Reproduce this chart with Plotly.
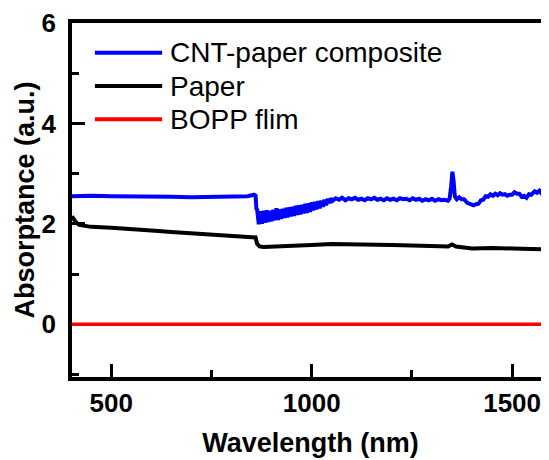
import plotly.graph_objects as go

# ---- data ----
cnt_wl = [402, 450, 500, 550, 600, 650, 700, 750, 800, 840, 856, 860, 862,
          864, 868, 872, 876, 880, 884, 888, 892, 896, 900, 904, 908, 912, 916, 920, 924, 928,
          932, 936, 940, 944, 948, 952, 956, 960, 964, 968, 972, 976, 980, 984, 988, 992, 996,
          1000, 1004, 1008, 1012, 1016, 1020, 1024, 1028, 1032, 1036, 1040, 1044, 1048,
          1052, 1060, 1068, 1076, 1084, 1092, 1100, 1108, 1116, 1124, 1132, 1140, 1148, 1156,
          1164, 1172, 1180, 1188, 1196, 1204, 1212, 1220, 1228, 1236, 1244, 1252, 1260, 1268,
          1276, 1284, 1292, 1300, 1308, 1316, 1324, 1332, 1340, 1344, 1348, 1351, 1354, 1357,
          1362, 1368, 1374, 1380, 1388, 1396, 1404, 1410, 1416, 1422, 1428, 1434, 1440, 1446,
          1452, 1458, 1464, 1470, 1476, 1482, 1488, 1494, 1500, 1506, 1512, 1518, 1524, 1530,
          1536, 1542, 1548, 1556, 1562, 1568, 1574, 1580, 1586, 1592, 1600]
cnt_abs = [2.55, 2.56, 2.55, 2.55, 2.54, 2.54, 2.53, 2.54, 2.54, 2.55, 2.58, 2.56, 2.30,
           2.28, 1.99, 2.25, 2.00, 2.26, 2.02, 2.27, 2.04, 2.26, 2.05, 2.28, 2.07, 2.31, 2.08, 2.29, 2.10, 2.30,
           2.12, 2.32, 2.13, 2.33, 2.15, 2.34, 2.16, 2.36, 2.18, 2.37, 2.19, 2.38, 2.21, 2.40, 2.22, 2.41, 2.24,
           2.43, 2.27, 2.44, 2.29, 2.45, 2.31, 2.46, 2.34, 2.48, 2.37, 2.50, 2.41, 2.51,
           2.46, 2.51, 2.48, 2.52, 2.47, 2.51, 2.49, 2.52, 2.48, 2.50, 2.47, 2.51, 2.49, 2.52,
           2.48, 2.50, 2.47, 2.51, 2.48, 2.50, 2.47, 2.51, 2.49, 2.50, 2.47, 2.51, 2.48, 2.50,
           2.46, 2.49, 2.47, 2.50, 2.46, 2.49, 2.47, 2.48, 2.46, 2.50, 2.75, 3.04, 2.85, 2.55,
           2.49, 2.53, 2.49, 2.49, 2.42, 2.40, 2.37, 2.39, 2.40, 2.47, 2.48, 2.55, 2.54, 2.59,
           2.56, 2.60, 2.57, 2.61, 2.58, 2.59, 2.56, 2.58, 2.58, 2.63, 2.60, 2.60, 2.54, 2.56,
           2.52, 2.59, 2.58, 2.65, 2.62, 2.66, 2.60, 2.61, 2.55, 2.56, 2.54]

paper_wl = [402, 406, 412, 420, 430, 450, 500, 550, 600, 650, 700, 750, 800, 850, 860, 864, 870,
            880, 900, 950, 1000, 1050, 1100, 1150, 1200, 1250, 1300, 1340, 1350, 1360, 1400,
            1450, 1500, 1550, 1600]
paper_abs = [2.15, 2.10, 2.03, 1.98, 1.96, 1.94, 1.92, 1.90, 1.87, 1.84, 1.81, 1.78, 1.76, 1.74,
             1.73, 1.60, 1.55, 1.54, 1.55, 1.56, 1.58, 1.60, 1.60, 1.59, 1.58, 1.57, 1.56, 1.55,
             1.59, 1.55, 1.51, 1.52, 1.51, 1.50, 1.49]

bopp_wl = [400, 600, 800, 1000, 1200, 1400, 1600]
bopp_abs = [0.0, 0.0, 0.0, 0.0, 0.0, 0.0, 0.0]

series_names = ["CNT-paper composite", "Paper", "BOPP flim"]
series_colors = ["#0000ff", "#000000", "#ff0000"]
x_ticks = [500, 1000, 1500]
y_ticks = [0, 2, 4, 6]

FONT = "Liberation Sans, Arial, sans-serif"

fig = go.Figure()
fig.add_trace(go.Scatter(x=bopp_wl, y=bopp_abs, mode="lines", name=series_names[2],
                         line=dict(color=series_colors[2], width=3.5), showlegend=False))
fig.add_trace(go.Scatter(x=paper_wl, y=paper_abs, mode="lines", name=series_names[1],
                         line=dict(color=series_colors[1], width=4), showlegend=False))
fig.add_trace(go.Scatter(x=cnt_wl, y=cnt_abs, mode="lines", name=series_names[0],
                         line=dict(color=series_colors[0], width=4), showlegend=False))

# custom legend (long sample lines like the reference)
leg_y = [0.916, 0.822, 0.728]
for name, color, yy in zip(series_names, series_colors, leg_y):
    fig.add_shape(type="line", xref="paper", yref="paper", x0=0.048, x1=0.189, y0=yy, y1=yy,
                  line=dict(color=color, width=4))
    fig.add_annotation(xref="paper", yref="paper", x=0.201, y=yy, text=name, showarrow=False,
                       xanchor="left", yanchor="middle",
                       font=dict(family=FONT, size=28, color="black"))

axis_common = dict(showgrid=False, zeroline=False, showline=True, linecolor="black", linewidth=3.5,
                   ticks="inside", ticklen=13, tickwidth=3, tickcolor="black", automargin=False,
                   layer="below traces",
                   tickfont=dict(family=FONT, size=26, color="black", weight="bold"))

# page body has an 8px default margin, so the figure is sized/margined to compensate
fig.update_layout(
    width=541, height=452,
    margin=dict(l=64, r=0, t=15, b=83),
    paper_bgcolor="white", plot_bgcolor="white",
    showlegend=False,
    xaxis=dict(range=[402, 1592], tickvals=x_ticks, mirror=True,
               minor=dict(dtick=250, ticks="inside", ticklen=7, tickwidth=3, tickcolor="black"),
               ticklabelstandoff=0,
               title=dict(text="Wavelength (nm)", standoff=17,
                          font=dict(family=FONT, size=27, color="black", weight="bold")),
               **axis_common),
    yaxis=dict(range=[-1.05, 6], tickvals=y_ticks, mirror=False,
               minor=dict(dtick=1, ticks="inside", ticklen=7, tickwidth=3, tickcolor="black"),
               ticklabelstandoff=7,
               title=dict(text="Absorptance (a.u.)", standoff=0,
                          font=dict(family=FONT, size=27, color="black", weight="bold")),
               **axis_common),
)

fig.write_html("out.html")
